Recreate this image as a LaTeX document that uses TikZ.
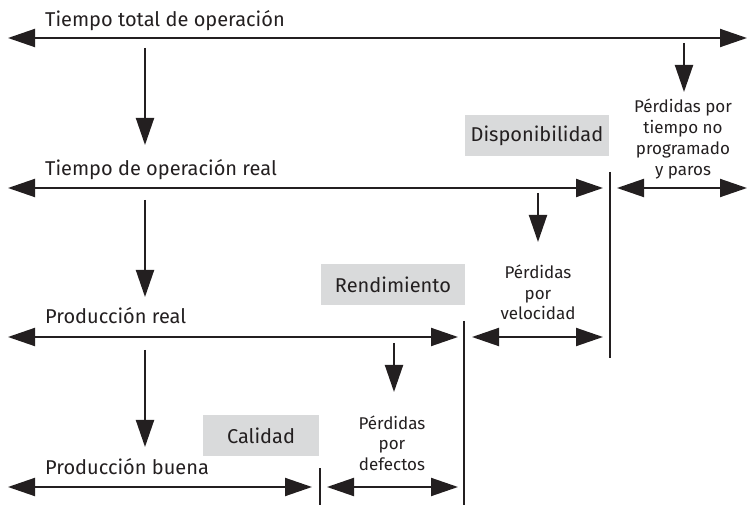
\documentclass[tikz,border=0pt]{standalone}
\usepackage{fontspec}
\setmainfont{Fira Sans}
\usetikzlibrary{arrows.meta}
\definecolor{ink}{HTML}{231F20}
\definecolor{boxgray}{HTML}{D9DADB}
\begin{document}
\begin{tikzpicture}[x=1pt,y=-1pt,
 line/.style={draw=ink,line width=2pt},
 tip/.tip={Triangle[length=27pt,width=18pt]},
 arr/.style={line,-tip},
 darr/.style={line,tip-tip},
 bar/.style={draw=ink,line width=2.5pt},
 title/.style={anchor=base west,font=\fontsize{20}{23}\selectfont,text=ink,inner sep=0pt},
 loss/.style={align=center,font=\fontsize{17}{20.7}\selectfont,text=ink,inner sep=0pt},
 kpi/.style={fill=boxgray,text=ink,font=\fontsize{20}{23}\selectfont,inner sep=0pt,minimum height=41pt}
]
\useasboundingbox (0,0) rectangle (748,505);
% titles
\node[title] (t1) at (45,27) {Tiempo total de operación};
\node[title] (t2) at (45,176) {Tiempo de operación real};
\node[title] (t3) at (45,324) {Producción real};
\node[title] (t4) at (45,475) {Producción buena};
% kpi boxes
\node[kpi,minimum width=144pt] (disp) at (537,135.5) {Disponibilidad};
\node[kpi,minimum width=144pt] (rend) at (393,284.5) {Rendimiento};
\node[kpi,minimum width=116pt] (cal) at (261,435.5) {Calidad};
% loss labels
\node[loss] (l1) at (683,139) {Pérdidas por\\tiempo no\\programado\\y paros};
\node[loss] (l2) at (538,292.5) {Pérdidas\\por\\velocidad};
\node[loss] (l3) at (392,443) {Pérdidas\\por\\defectos};
% coordinates
\coordinate (r1l) at (8,38);   \coordinate (r1r) at (747,38);
\coordinate (r2l) at (8,188);  \coordinate (r2r) at (603,188);
\coordinate (r3l) at (8,337);  \coordinate (r3r) at (458,337);
\coordinate (r4l) at (8,487);  \coordinate (r4r) at (312,487);
\coordinate (b1t) at (610,172); \coordinate (b1b) at (610,358);
\coordinate (b2t) at (464,321); \coordinate (b2b) at (464,505);
\coordinate (b3t) at (320,468); \coordinate (b3b) at (320,505);
\coordinate (p1l) at (617,188); \coordinate (p1r) at (747,188);
\coordinate (p2l) at (472,337); \coordinate (p2r) at (603,337);
\coordinate (p3l) at (327,487); \coordinate (p3r) at (458,487);
\coordinate (v1a) at (145,48);  \coordinate (v1b) at (145,145);
\coordinate (v2a) at (145,200); \coordinate (v2b) at (145,297);
\coordinate (v3a) at (145,350); \coordinate (v3b) at (145,447);
\coordinate (s1a) at (684,43);  \coordinate (s1b) at (684,92);
\coordinate (s2a) at (538,193); \coordinate (s2b) at (538,242);
\coordinate (s3a) at (394,343); \coordinate (s3b) at (394,392);
% horizontal arrows
\draw[darr] (r1l) -- (r1r);
\draw[darr] (r2l) -- (r2r);
\draw[darr] (r3l) -- (r3r);
\draw[darr] (r4l) -- (r4r);
\draw[darr] (p1l) -- (p1r);
\draw[darr] (p2l) -- (p2r);
\draw[darr] (p3l) -- (p3r);
% bars
\draw[bar] (b1t) -- (b1b);
\draw[bar] (b2t) -- (b2b);
\draw[bar] (b3t) -- (b3b);
% vertical arrows
\draw[arr] (v1a) -- (v1b);
\draw[arr] (v2a) -- (v2b);
\draw[arr] (v3a) -- (v3b);
\draw[arr] (s1a) -- (s1b);
\draw[arr] (s2a) -- (s2b);
\draw[arr] (s3a) -- (s3b);
\end{tikzpicture}
\end{document}
